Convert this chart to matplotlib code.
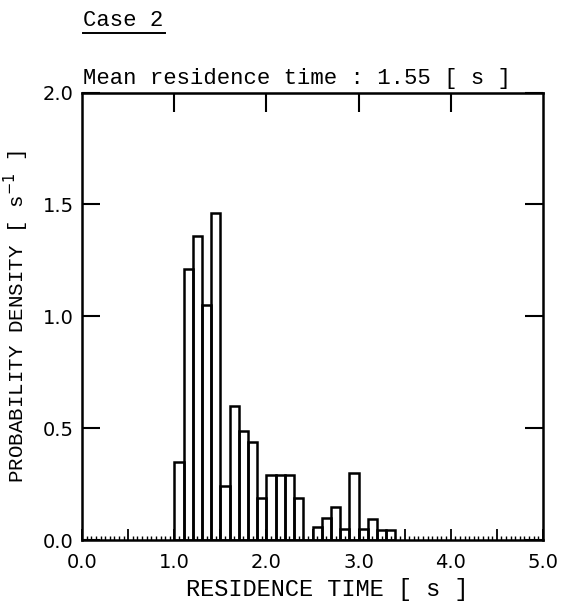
import numpy as np
import matplotlib
matplotlib.use("Agg")
import matplotlib.pyplot as plt
from matplotlib.ticker import MultipleLocator, FuncFormatter
from matplotlib.lines import Line2D

# histogram bins (left edge, s) and probability density (1/s)
bin_left = [1.0, 1.1, 1.2, 1.3, 1.4, 1.5, 1.6, 1.7, 1.8, 1.9,
            2.0, 2.1, 2.2, 2.3, 2.4, 2.5, 2.6, 2.7, 2.8, 2.9,
            3.0, 3.1, 3.2, 3.3]
density = [0.35, 1.21, 1.36, 1.05, 1.46, 0.24, 0.60, 0.49, 0.44, 0.19,
           0.29, 0.29, 0.29, 0.19, 0.0, 0.06, 0.10, 0.15, 0.05, 0.30,
           0.05, 0.095, 0.045, 0.045]
bin_width = 0.1

x_ticks = [0.0, 1.0, 2.0, 3.0, 4.0, 5.0]
y_ticks = [0.0, 0.5, 1.0, 1.5, 2.0]

mono = "Liberation Mono"
narrow = ["Liberation Sans Narrow", "DejaVu Sans"]

fig = plt.figure(figsize=(5.75, 6.09), dpi=100)
ax = fig.add_axes([0.143, 0.113, 0.801, 0.735])

ax.bar(bin_left, density, width=bin_width, align="edge",
       fill=False, edgecolor="black", linewidth=1.8)

ax.set_xlim(0, 5)
ax.set_ylim(0, 2)

for s in ax.spines.values():
    s.set_linewidth(1.8)

# bottom axis: labels at integers, ticks every 0.5 and small ones every 0.05
ax.xaxis.set_major_locator(MultipleLocator(0.5))
ax.xaxis.set_minor_locator(MultipleLocator(0.05))
ax.xaxis.set_major_formatter(FuncFormatter(
    lambda v, p: f"{v:.1f}" if abs(v - round(v)) < 1e-6 else ""))
ax.tick_params(axis="x", which="major", direction="in", length=8, width=1.3,
               pad=9, labelsize=14)
ax.tick_params(axis="x", which="minor", direction="in", length=3, width=1.0)

# top axis: plain long ticks at integers
top = ax.secondary_xaxis("top")
top.set_xticks(x_ticks[1:-1])
top.tick_params(direction="in", length=14, width=1.5, labeltop=False)

ax.set_yticks(y_ticks)
ax.yaxis.set_major_formatter(FuncFormatter(lambda v, p: f"{v:.1f}"))
ax.tick_params(axis="y", direction="in", length=13, width=1.5,
               left=True, right=True, pad=6, labelsize=14)

for lab in ax.get_xticklabels() + ax.get_yticklabels():
    lab.set_family(narrow)

ax.set_xlabel("RESIDENCE TIME [ s ]", family=mono, fontsize=17, labelpad=4)
ax.xaxis.set_label_coords(0.532, -0.085)
ax.set_ylabel("PROBABILITY DENSITY [ s$^{-1}$ ]", family=mono, fontsize=15)
ax.yaxis.set_label_coords(-0.112, 0.5)

fig.text(0.144, 0.862, "Mean residence time : 1.55 [ s ]", family=mono,
         fontsize=16, ha="left", va="baseline")
fig.text(0.144, 0.958, "Case 2", family=mono, fontsize=16,
         ha="left", va="baseline")
fig.add_artist(Line2D([0.144, 0.287], [0.946, 0.946], color="black",
                      linewidth=1.4, transform=fig.transFigure))

fig.savefig("out.png", dpi=100)
